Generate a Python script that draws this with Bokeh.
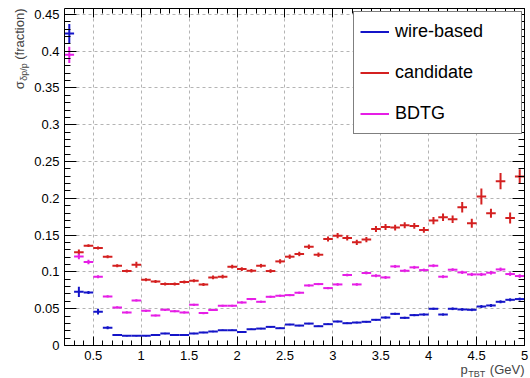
import math
from bokeh.plotting import figure
from bokeh.models import (ColumnDataSource, Range1d, LinearAxis, SingleIntervalTicker,
                          CustomJSTickFormatter, Legend, LegendItem, Label)
from bokeh.embed import file_html
from bokeh.resources import INLINE

# ---------------- data ----------------
p_bins = [0.25, 0.35, 0.45, 0.55, 0.65, 0.75, 0.85, 0.95, 1.05, 1.15, 1.25, 1.35,
          1.45, 1.55, 1.65, 1.75, 1.85, 1.95, 2.05, 2.15, 2.25, 2.35, 2.45, 2.55,
          2.65, 2.75, 2.85, 2.95, 3.05, 3.15, 3.25, 3.35, 3.45, 3.55, 3.65, 3.75,
          3.85, 3.95, 4.05, 4.15, 4.25, 4.35, 4.45, 4.55, 4.65, 4.75, 4.85, 4.95]
bin_half = 0.05

wire_val = [0.424, 0.073, 0.072, 0.046, 0.024, 0.0144, 0.0131, 0.0131, 0.0131, 0.0144,
            0.0162, 0.0144, 0.0144, 0.0162, 0.0176, 0.019, 0.0208, 0.0208, 0.0185, 0.0222,
            0.023, 0.0253, 0.0235, 0.0285, 0.0271, 0.0298, 0.0262, 0.029, 0.0326, 0.0303,
            0.0312, 0.0322, 0.0349, 0.038, 0.043, 0.0376, 0.0413, 0.0421, 0.0499, 0.0421,
            0.0499, 0.049, 0.0485, 0.053, 0.0544, 0.0594, 0.0621, 0.0631]
wire_err = [0.013, 0.007, 0.002, 0.004, 0.002, 0.001, 0.001, 0.001, 0.001, 0.001,
            0.001, 0.001, 0.001, 0.001, 0.001, 0.001, 0.001, 0.001, 0.001, 0.001,
            0.001, 0.001, 0.001, 0.001, 0.001, 0.001, 0.001, 0.001, 0.0012, 0.0012,
            0.0012, 0.0012, 0.0012, 0.0015, 0.0015, 0.0015, 0.0015, 0.0015, 0.0015, 0.0015,
            0.0018, 0.0018, 0.0018, 0.002, 0.002, 0.002, 0.002, 0.002]

bdtg_val = [0.395, 0.121, 0.1135, 0.0935, 0.0667, 0.0517, 0.0449, 0.0612, 0.0471, 0.0408,
            0.0485, 0.0467, 0.0449, 0.0553, 0.044, 0.0483, 0.054, 0.054, 0.0585, 0.0631,
            0.0594, 0.0662, 0.0676, 0.0685, 0.0717, 0.0816, 0.0835, 0.078, 0.083, 0.0958,
            0.083, 0.0985, 0.0948, 0.0925, 0.1075, 0.1016, 0.1062, 0.1025, 0.1084, 0.0935,
            0.103, 0.0994, 0.0966, 0.0966, 0.0989, 0.1034, 0.0971, 0.0944]
bdtg_err = [0.011, 0.0037, 0.003, 0.002, 0.0015, 0.0015, 0.0015, 0.0015, 0.0015, 0.0015,
            0.0015, 0.0015, 0.0015, 0.0015, 0.0015, 0.0015, 0.0015, 0.0015, 0.0015, 0.0015,
            0.0015, 0.0015, 0.0015, 0.0015, 0.0015, 0.0015, 0.0015, 0.0015, 0.0018, 0.0018,
            0.0018, 0.0018, 0.002, 0.002, 0.002, 0.002, 0.002, 0.002, 0.002, 0.002,
            0.002, 0.0022, 0.0022, 0.0022, 0.0025, 0.0025, 0.0025, 0.0025]

cand_p = [0.35, 0.45, 0.55, 0.65, 0.75, 0.85, 0.95, 1.05, 1.15, 1.25, 1.35,
          1.45, 1.55, 1.65, 1.75, 1.85, 1.95, 2.05, 2.15, 2.25, 2.35, 2.45, 2.55,
          2.65, 2.75, 2.85, 2.95, 3.05, 3.15, 3.25, 3.35, 3.45, 3.55, 3.65, 3.75,
          3.85, 3.95, 4.05, 4.15, 4.25, 4.35, 4.45, 4.55, 4.65, 4.75, 4.85, 4.95]
cand_val = [0.1266, 0.1357, 0.1325, 0.1207, 0.1084, 0.1012, 0.1098, 0.0894, 0.0871, 0.0835,
            0.0835, 0.0862, 0.088, 0.083, 0.0925, 0.0935, 0.1071, 0.1039, 0.1016, 0.1084,
            0.1012, 0.1143, 0.1207, 0.1244, 0.1343, 0.1234, 0.1448, 0.1493, 0.1462, 0.1402,
            0.1439, 0.1584, 0.1611, 0.1602, 0.1634, 0.1625, 0.1571, 0.1698, 0.1743, 0.1716,
            0.1879, 0.1661, 0.2025, 0.1797, 0.2233, 0.1734, 0.2297]
cand_err = [0.0037, 0.002, 0.002, 0.002, 0.002, 0.002, 0.004, 0.002, 0.002, 0.002,
            0.002, 0.002, 0.002, 0.002, 0.0025, 0.0025, 0.0025, 0.0025, 0.0025, 0.0025,
            0.0025, 0.003, 0.003, 0.003, 0.003, 0.003, 0.0035, 0.0035, 0.0035, 0.0035,
            0.0035, 0.004, 0.004, 0.004, 0.004, 0.004, 0.004, 0.005, 0.005, 0.005,
            0.007, 0.006, 0.011, 0.006, 0.011, 0.0075, 0.010]

series_names = ["wire-based", "candidate", "BDTG"]
x_title = ["p", "TBT", "(GeV)"]
y_title = ["\u03c3", "\u03b4p/p", "(fraction)"]

# ---------------- style / layout ----------------
W, H = 530, 378
FL, FR, FT, FB = 64, 6, 8, 33          # visual frame margins in px
X_MIN, X_MAX = 0.2, 5.0
Y_MIN, Y_MAX = 0.0, 0.458
FONT = "Liberation Sans"
COL_WIRE = "#1414c8"
COL_CAND = "#d42020"
COL_BDTG = "#e61ee6"
GRID_COL = "#b4b4b4"

frame_w = W - FL - FR
frame_h = H - FT - FB
PXX = frame_w / (X_MAX - X_MIN)
PXY = frame_h / (Y_MAX - Y_MIN)


def dx(px):  # canvas px -> data x
    return X_MIN + (px - FL) / PXX


def dy(py):  # canvas px -> data y
    return Y_MIN + (H - FB - py) / PXY


# the Bokeh frame covers the whole canvas; the visible frame is made of fixed axes
p = figure(width=W, height=H,
           x_range=Range1d(dx(0), dx(W)), y_range=Range1d(dy(H), dy(0)),
           output_backend="svg", toolbar_location=None,
           x_axis_type=None, y_axis_type=None,
           min_border_left=0, min_border_right=0, min_border_top=0, min_border_bottom=0)
p.background_fill_color = "white"
p.border_fill_color = "white"
p.outline_line_color = None

fmt = CustomJSTickFormatter(code="return String(Number(tick.toFixed(2)));")
blank = CustomJSTickFormatter(code="return '';")


def axis(side, loc, ticker, bounds, labelled, major, minor, color="black",
         dash="solid", line=True, level="guide"):
    a = LinearAxis(ticker=ticker, formatter=fmt if labelled else blank,
                   fixed_location=loc, bounds=bounds,
                   major_tick_in=major, major_tick_out=0,
                   minor_tick_in=minor, minor_tick_out=0,
                   axis_line_color="black" if line else None,
                   major_tick_line_color=color, major_tick_line_dash=dash,
                   minor_tick_line_color=color if minor else None,
                   major_label_text_font=FONT,
                   major_label_text_font_size="13px" if labelled else "0px",
                   major_label_text_color="black",
                   major_label_standoff=5 if labelled else 0,
                   level=level)
    p.add_layout(a, side)


xt = SingleIntervalTicker(interval=0.5, num_minor_ticks=5)
yt = SingleIntervalTicker(interval=0.05, num_minor_ticks=5)
xg = SingleIntervalTicker(interval=0.5, num_minor_ticks=0)
yg = SingleIntervalTicker(interval=0.05, num_minor_ticks=0)

# grid lines (dashed, underneath the data)
axis("below", Y_MIN, xg, (X_MIN, X_MAX), False, frame_h, 0, GRID_COL, "3 3", False, "underlay")
axis("left", X_MIN, yg, (Y_MIN, Y_MAX), False, frame_w, 0, GRID_COL, "3 3", False, "underlay")

# frame axes with inward ticks on all four sides
axis("below", Y_MIN, xt, (X_MIN, X_MAX), True, 9, 5)
axis("left", X_MIN, yt, (Y_MIN, Y_MAX), True, 12, 6)
axis("above", Y_MAX, xt, (X_MIN, X_MAX), False, 9, 5)
axis("right", X_MAX, yt, (Y_MIN, Y_MAX), False, 12, 6)


def draw(xs, vals, errs, color):
    src = ColumnDataSource(dict(
        x=xs, y=vals,
        xl=[x - bin_half for x in xs], xr=[x + bin_half for x in xs],
        lo=[v - e for v, e in zip(vals, errs)], hi=[v + e for v, e in zip(vals, errs)]))
    h = p.segment(x0="xl", y0="y", x1="xr", y1="y", source=src, line_color=color, line_width=2)
    p.segment(x0="x", y0="lo", x1="x", y1="hi", source=src, line_color=color, line_width=2)
    return h


r_cand = draw(cand_p, cand_val, cand_err, COL_CAND)
r_bdtg = draw(p_bins, bdtg_val, bdtg_err, COL_BDTG)
r_wire = draw(p_bins, wire_val, wire_err, COL_WIRE)

legend = Legend(items=[LegendItem(label=series_names[0], renderers=[r_wire]),
                       LegendItem(label=series_names[1], renderers=[r_cand]),
                       LegendItem(label=series_names[2], renderers=[r_bdtg])],
                location=(353, H - 134), margin=0, padding=6, spacing=14,
                label_height=27, glyph_height=27, glyph_width=29, label_width=120,
                label_standoff=6, label_text_font=FONT, label_text_font_size="18px",
                label_text_color="black",
                border_line_color="black", border_line_width=1,
                background_fill_color="white", background_fill_alpha=1)
p.add_layout(legend)

big = "13px"
small = "9px"

# ---- x axis title (right aligned to the frame end) ----
xr_px = W - FR
gev_w = 34.7 + 4.5      # "(GeV)" width + gap
sub_w = 17.0            # "TBT" width
p.add_layout(Label(x=dx(xr_px), y=dy(368.5), text=x_title[2], text_align="right",
                   text_baseline="alphabetic", text_font=FONT, text_font_size=big))
p.add_layout(Label(x=dx(xr_px - gev_w), y=dy(373.5), text=x_title[1], text_align="right",
                   text_baseline="alphabetic", text_font=FONT, text_font_size=small))
p.add_layout(Label(x=dx(xr_px - gev_w - sub_w - 0.5), y=dy(368.5), text=x_title[0],
                   text_align="right", text_baseline="alphabetic", text_font=FONT,
                   text_font_size=big))

# ---- y axis title (rotated, aligned to the frame top) ----
frac_w = 51.3 + 3.5     # "(fraction)" length + gap
dsub_w = 17.5 + 0.5     # "δp/p" length
p.add_layout(Label(x=dx(19), y=dy(FT), text=y_title[2], angle=math.pi / 2, text_align="right",
                   text_baseline="alphabetic", text_font=FONT, text_font_size=big))
p.add_layout(Label(x=dx(23), y=dy(FT + frac_w), text=y_title[1], angle=math.pi / 2,
                   text_align="right", text_baseline="alphabetic", text_font=FONT,
                   text_font_size=small))
p.add_layout(Label(x=dx(19), y=dy(FT + frac_w + dsub_w), text=y_title[0], angle=math.pi / 2,
                   text_align="right", text_baseline="alphabetic", text_font=FONT,
                   text_font_size=big))

open("out.html", "w").write(file_html(p, INLINE))
